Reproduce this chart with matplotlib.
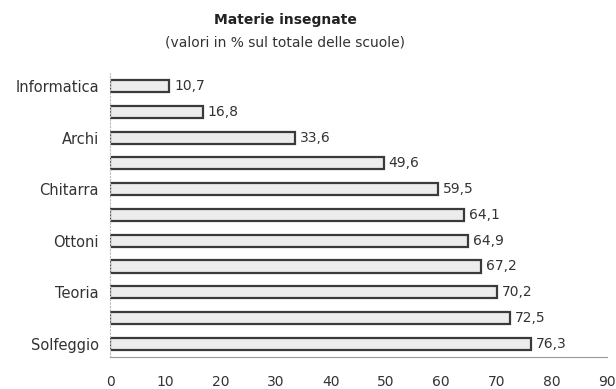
import matplotlib.pyplot as plt

# Materie, dal basso verso l'alto (alcune etichette non sono mostrate)
materie = ['Solfeggio', '', 'Teoria', '', 'Ottoni', '', 'Chitarra', '', 'Archi', '', 'Informatica']
percentuali = [76.3, 72.5, 70.2, 67.2, 64.9, 64.1, 59.5, 49.6, 33.6, 16.8, 10.7]
x_ticks = [0, 10, 20, 30, 40, 50, 60, 70, 80, 90]

plt.rcParams['font.family'] = 'DejaVu Sans'

fig = plt.figure(figsize=(6.16, 3.89), dpi=100)
ax = fig.add_axes([0.1786, 0.083, 0.806, 0.729])

pos = range(len(materie))
ax.barh(pos, percentuali, height=0.47, color='#ececec', edgecolor='#3a3a3a', linewidth=1.6)

for p, v in zip(pos, percentuali):
    ax.text(v + 0.9, p, f"{v:.1f}".replace('.', ','), va='center', ha='left',
            fontsize=10, color='#333333')

ax.set_xlim(0, 90)
ax.set_ylim(-0.5, len(materie) - 0.5)
ax.set_yticks(list(pos))
ax.set_yticklabels(materie, fontsize=10.5, color='#333333')
ax.set_xticks(x_ticks)
ax.set_xticklabels([str(t) for t in x_ticks], fontsize=10, color='#333333')
ax.tick_params(axis='x', length=0, pad=13)
ax.tick_params(axis='y', length=0, pad=8)

for side in ['top', 'right']:
    ax.spines[side].set_visible(False)
ax.spines['left'].set_color('#bbbbbb')
ax.spines['left'].set_linestyle((0, (1, 2)))
ax.spines['bottom'].set_color('#999999')

fig.text(0.463, 0.949, 'Materie insegnate', ha='center', va='center',
         fontsize=10, fontweight='bold', color='#222222')
fig.text(0.463, 0.892, '(valori in % sul totale delle scuole)', ha='center', va='center',
         fontsize=10, color='#333333')

fig.savefig('out.png', dpi=100)
